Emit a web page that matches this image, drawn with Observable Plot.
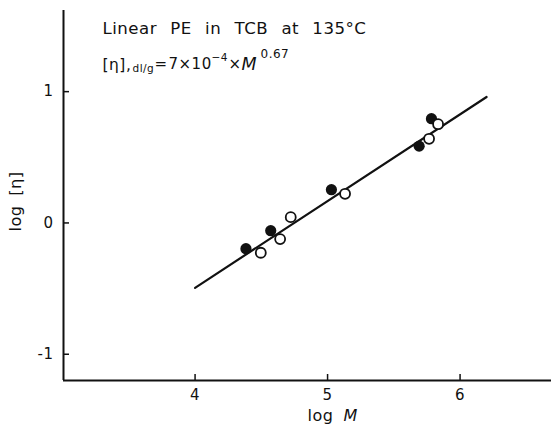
<!DOCTYPE html>
<html>
<head>
<meta charset="utf-8">
<script src="https://cdn.jsdelivr.net/npm/d3@7"></script>
<script src="https://cdn.jsdelivr.net/npm/@observablehq/plot@0.6"></script>
<style>
  html, body { margin: 0; padding: 0; background: #fff; }
  svg text { letter-spacing: 0.5px; }
  svg g[font-size="16.6"] { letter-spacing: 1.3px; word-spacing: 7.5px; }
  svg g[font-size="16.2"] { word-spacing: 4px; }
</style>
</head>
<body>
<div id="chart"></div>
<script>
// ---- data ----
const xTicks = [4, 5, 6];
const yTicks = [-1, 0, 1];
const filledX = [4.384, 4.571, 5.029, 5.691, 5.784];
const filledY = [-0.196, -0.059, 0.253, 0.585, 0.794];
const openX = [4.496, 4.642, 4.722, 5.132, 5.766, 5.834];
const openY = [-0.227, -0.123, 0.044, 0.222, 0.641, 0.752];
const fitX = [4.0, 6.2];
const fitY = [-0.494, 0.959];
const titleText = "Linear PE in TCB at 135°C";
const xLabel = ["log", "M"];
const yLabel = "log [η]";

// ---- layout ----
const W = 551, H = 428;
const mL = 63, mT = 10, mR = 0, mB = 48;
const xDomain = [3.007, 6.69];
const yDomain = [-1.2, 1.618];
const font = "DejaVu Sans";

const filled = filledX.map((x, i) => ({x, y: filledY[i]}));
const open = openX.map((x, i) => ({x, y: openY[i]}));
const fit = fitX.map((x, i) => ({x, y: fitY[i]}));

// text placed by absolute pixel (left edge, cap top)
function label(str, x, y, opts = {}) {
  return Plot.text([str], {
    text: d => d, frameAnchor: "top-left", dx: x - mL, dy: y - mT,
    textAnchor: "start", lineAnchor: "top", fontSize: 15, fill: "#111", ...opts
  });
}

const chart = Plot.plot({
  width: W, height: H,
  marginLeft: mL, marginTop: mT, marginRight: mR, marginBottom: mB,
  style: {fontFamily: font, fontSize: "15px", color: "#111", background: "#fff"},
  x: {domain: xDomain},
  y: {domain: yDomain},
  marks: [
    Plot.axisX({ticks: xTicks, tickSize: -6, tickPadding: 15, tickFormat: d => String(d), label: null, strokeWidth: 1.5}),
    Plot.axisY({ticks: yTicks, tickSize: -6, tickPadding: 16, tickFormat: d => d < 0 ? "-" + Math.abs(d) : String(d), label: null, strokeWidth: 1.5}),
    Plot.ruleX([xDomain[0]], {stroke: "#111", strokeWidth: 2}),
    Plot.ruleY([yDomain[0]], {stroke: "#111", strokeWidth: 2}),
    Plot.line(fit, {x: "x", y: "y", stroke: "#111", strokeWidth: 2.2}),
    Plot.dot(filled, {x: "x", y: "y", r: 5.6, fill: "#111", stroke: "none"}),
    Plot.dot(open, {x: "x", y: "y", r: 5, fill: "#fff", stroke: "#111", strokeWidth: 1.8}),
    // title
    label(titleText, 102, 22, {fontSize: 16.6}),
    // formula pieces
    label("[η],", 102, 58, {fontSize: 15.5}),
    label("dl/g", 132, 64, {fontSize: 10.5}),
    label("=", 154, 58),
    label("7×10", 168, 58),
    label("−4", 211, 53, {fontSize: 10.5}),
    label("×", 228, 58),
    label("M", 241, 57, {fontSize: 17.5, fontStyle: "italic"}),
    label("0.67", 260, 49, {fontSize: 12}),
    // x label
    label(xLabel[0], 307, 409, {fontSize: 16}),
    label(xLabel[1], 343, 409, {fontSize: 16, fontStyle: "italic"}),
    // y label
    Plot.text([yLabel], {text: d => d, frameAnchor: "left", dx: -48, dy: 6, rotate: -90, textAnchor: "middle", fontSize: 16.2, fill: "#111"})
  ]
});
document.getElementById("chart").appendChild(chart);
</script>
</body>
</html>
